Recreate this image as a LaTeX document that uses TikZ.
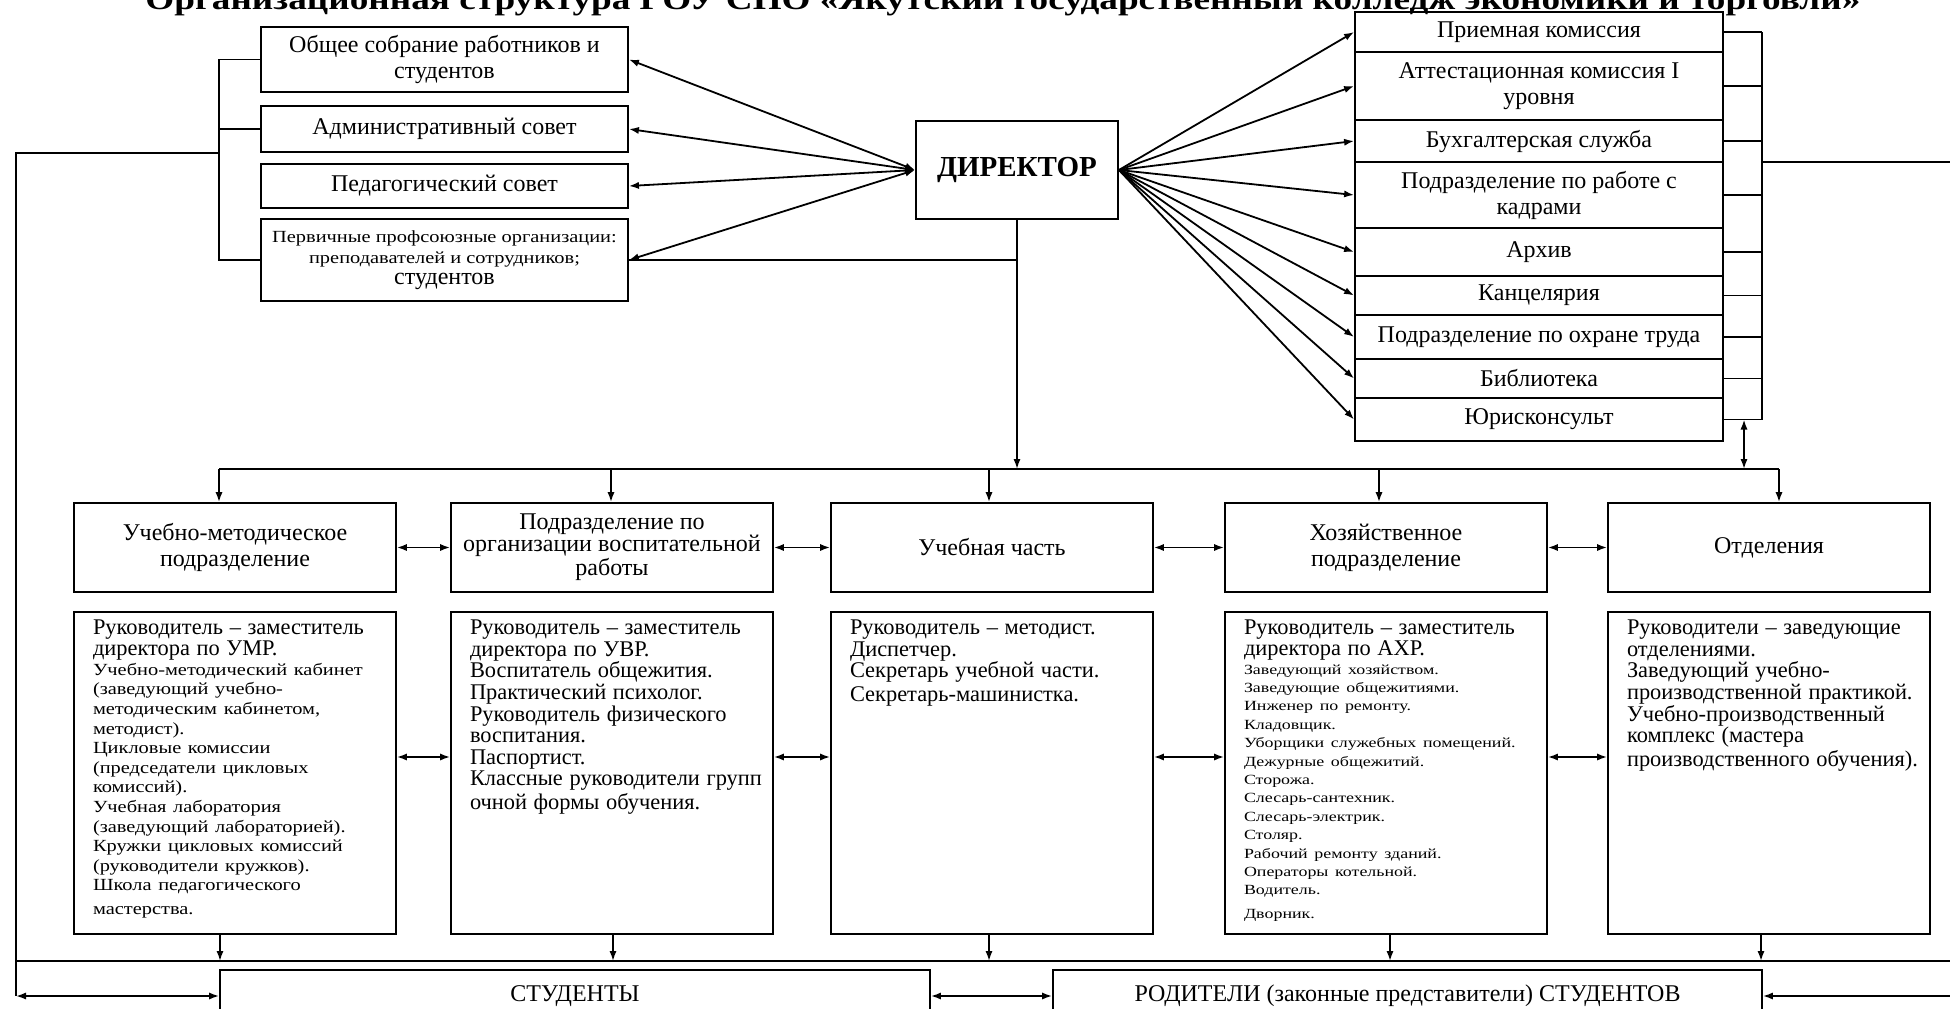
\documentclass[tikz,border=0pt]{standalone}
\usepackage{fontspec}
\usetikzlibrary{arrows.meta}
\setmainfont{Liberation Serif}
\newfontfamily\widefont{Liberation Serif}[FakeStretch=1.2]
\newfontfamily\tinyfont{Liberation Serif}[FakeStretch=1.28]
\newfontfamily\titlefont{Liberation Serif}[FakeStretch=1.24]

\begin{document}
\begin{tikzpicture}[x=0.5pt,y=-0.5pt,line width=0.9pt,
box/.style 2 args={draw,align=center,inner sep=1pt,
  minimum width=(#1)*0.5pt,minimum height=(#2)*0.5pt,
  font=\fontsize{12}{13}\selectfont},
dtext/.style={anchor=north west,inner sep=0pt,text width=152pt,align=left},
arr/.style={-{Latex[length=5pt,width=3.6pt]}},
dbl/.style={{Latex[length=5pt,width=3.6pt]}-{Latex[length=5pt,width=3.6pt]}}]
\useasboundingbox (0,0) rectangle (1950,1008);

\node[font=\titlefont\bfseries\fontsize{15}{15}\selectfont,anchor=base] (title) at (1003,9)
 {Организационная структура ГОУ СПО «Якутский государственный колледж экономики и торговли»};

% councils
\node[box={367}{65}] (l1) at (444.5,59.5) {Общее собрание работников и\\студентов};
\node[box={367}{46}] (l2) at (444.5,129) {Административный совет};
\node[box={367}{44}] (l3) at (444.5,186) {Педагогический совет};
\node[box={367}{82},font=\fontsize{12}{10.5}\selectfont] (l4) at (444.5,260)
 {{\widefont\fontsize{8.5}{10.5}\selectfont Первичные профсоюзные организации:}\\
  {\widefont\fontsize{8.5}{10.5}\selectfont преподавателей и сотрудников;}\\студентов};

\node[box={202}{98},font=\bfseries\fontsize{14.5}{15}\selectfont] (dir) at (1017,170) {ДИРЕКТОР};

% services
\foreach \n/\t/\b/\s in {1/12/52/{Приемная комиссия},
  2/52/120/{Аттестационная комиссия I\\уровня},
  3/120/162/{Бухгалтерская служба},
  4/162/228/{Подразделение по работе с\\кадрами},
  5/228/276/{Архив},
  6/276/315/{Канцелярия},
  7/315/359/{Подразделение по охране труда},
  8/359/398/{Библиотека},
  9/398/441/{Юрисконсульт}}
  \node[box={368}{\b-\t}] (r\n) at (1539,{(\t+\b)/2}) {\s};

% departments
\node[box={322}{89}] (u1) at (235,547.5) {Учебно-методическое\\подразделение};
\node[box={322}{89},font=\fontsize{12}{11}\selectfont] (u2) at (612,547.5)
 {Подразделение по\\организации воспитательной\\работы};
\node[box={322}{89}] (u3) at (992,547.5) {Учебная часть};
\node[box={322}{89}] (u4) at (1386,547.5) {Хозяйственное\\подразделение};
\node[box={322}{89}] (u5) at (1769,547.5) {Отделения};

\foreach \n/\x in {d1/235,d2/612,d3/992,d4/1386,d5/1769}
  \node[box={322}{322}] (\n) at (\x,773) {};

\node[dtext] (t1) at ([shift={(19,8)}]d1.north west)
 {\fontsize{11.2}{10.5}\selectfont Руководитель – заместитель\\директора по УМР.\par
  \widefont\fontsize{8.5}{9.8}\selectfont Учебно-методический кабинет\\(заведующий учебно-\\
  методическим кабинетом,\\методист).\\Цикловые комиссии\\(председатели цикловых\\
  комиссий).\\Учебная лаборатория\\(заведующий лабораторией).\\Кружки цикловых комиссий\\
  (руководители кружков).\\Школа педагогического\\мастерства.};
\node[dtext] (t2) at ([shift={(19,8)}]d2.north west)
 {\fontsize{11.2}{10.8}\selectfont Руководитель – заместитель\\директора по УВР.\\
  Воспитатель общежития.\\Практический психолог.\\Руководитель физического\\
  воспитания.\\Паспортист.\\Классные руководители групп\\очной формы обучения.};
\node[dtext] (t3) at ([shift={(19,8)}]d3.north west)
 {\fontsize{11.2}{10.8}\selectfont Руководитель – методист.\\Диспетчер.\\
  Секретарь учебной части.\\Секретарь-машинистка.};
\node[dtext] (t4) at ([shift={(19,8)}]d4.north west)
 {\fontsize{11.2}{10.5}\selectfont Руководитель – заместитель\\директора по АХР.\par
  \tinyfont\fontsize{7}{9.2}\selectfont Заведующий хозяйством.\\Заведующие общежитиями.\\
  Инженер по ремонту.\\Кладовщик.\\Уборщики служебных помещений.\\Дежурные общежитий.\\
  Сторожа.\\Слесарь-сантехник.\\Слесарь-электрик.\\Столяр.\\Рабочий ремонту зданий.\\
  Операторы котельной.\\Водитель.\\Дворник.};
\node[dtext] (t5) at ([shift={(19,8)}]d5.north west)
 {\fontsize{11.2}{10.8}\selectfont Руководители – заведующие\\отделениями.\\
  Заведующий учебно-\\производственной практикой.\\Учебно-производственный\\
  комплекс (мастера\\производственного обучения).};

\node[box={710}{52}] (stud) at (575,996) {СТУДЕНТЫ};
\node[box={709}{52}] (par) at (1407.5,996) {РОДИТЕЛИ (законные представители) СТУДЕНТОВ};

% director links
\foreach \n in {l1,l2,l3,l4} \draw[dbl] (dir.west) -- (\n.east);
\foreach \i in {1,...,9} \draw[arr] (dir.east) -- (r\i.west);

% left bracket
\coordinate (bl) at (219,153);
\coordinate (lt) at (16,153);
\coordinate (lb) at (16,996);
\draw (l1.west) -- (l1.west -| bl) -- (l4.west -| bl) -- (l4.west);
\draw (l2.west) -- (l2.west -| bl);
\draw (bl) -- (lt) -- (lb);
\draw[dbl] (lb) -- (stud.west);

% right bracket
\coordinate (br) at (1762,162);
\coordinate (rt) at (1958,162);
\coordinate (rb) at (1958,996);
\foreach \i in {1,...,9} \draw (r\i.east) -- (r\i.east -| br);
\draw (r1.east -| br) -- (r9.east -| br);
\draw[arr] (br) -- (rt) -- (rb) -- (par.east);

% upper bus
\coordinate (ba) at (219,469);
\coordinate (bb) at (1779,469);
\coordinate (jb) at (1744,469);
\draw (l4.east) -- (l4.east -| dir.south);
\draw[arr] (dir.south) -- (dir.south |- ba);
\draw (ba) -- (bb);
\foreach \n/\x in {u1/219,u2/611,u3/989,u4/1379,u5/1779}
 {\coordinate (b\n) at (\x,469);
  \draw[arr] (b\n) -- (b\n |- \n.north);}
\draw[dbl] (jb) -- (jb |- r9.east);

% lower bus
\coordinate (cl) at (16,961);
\coordinate (cr) at (1958,961);
\draw (cl) -- (cr);
\foreach \n/\x in {d1/220,d2/613,d3/989,d4/1390,d5/1761}
 {\coordinate (c\n) at (\x,961);
  \draw[arr] (c\n |- \n.south) -- (c\n);}

\foreach \a/\b in {1/2,2/3,3/4,4/5}
 {\draw[dbl] (u\a.east) -- (u\b.west);
  \draw[dbl] ([yshift=8pt]d\a.east) -- ([yshift=8pt]d\b.west);}
\draw[dbl] (stud.east) -- (par.west);
\end{tikzpicture}
\end{document}
